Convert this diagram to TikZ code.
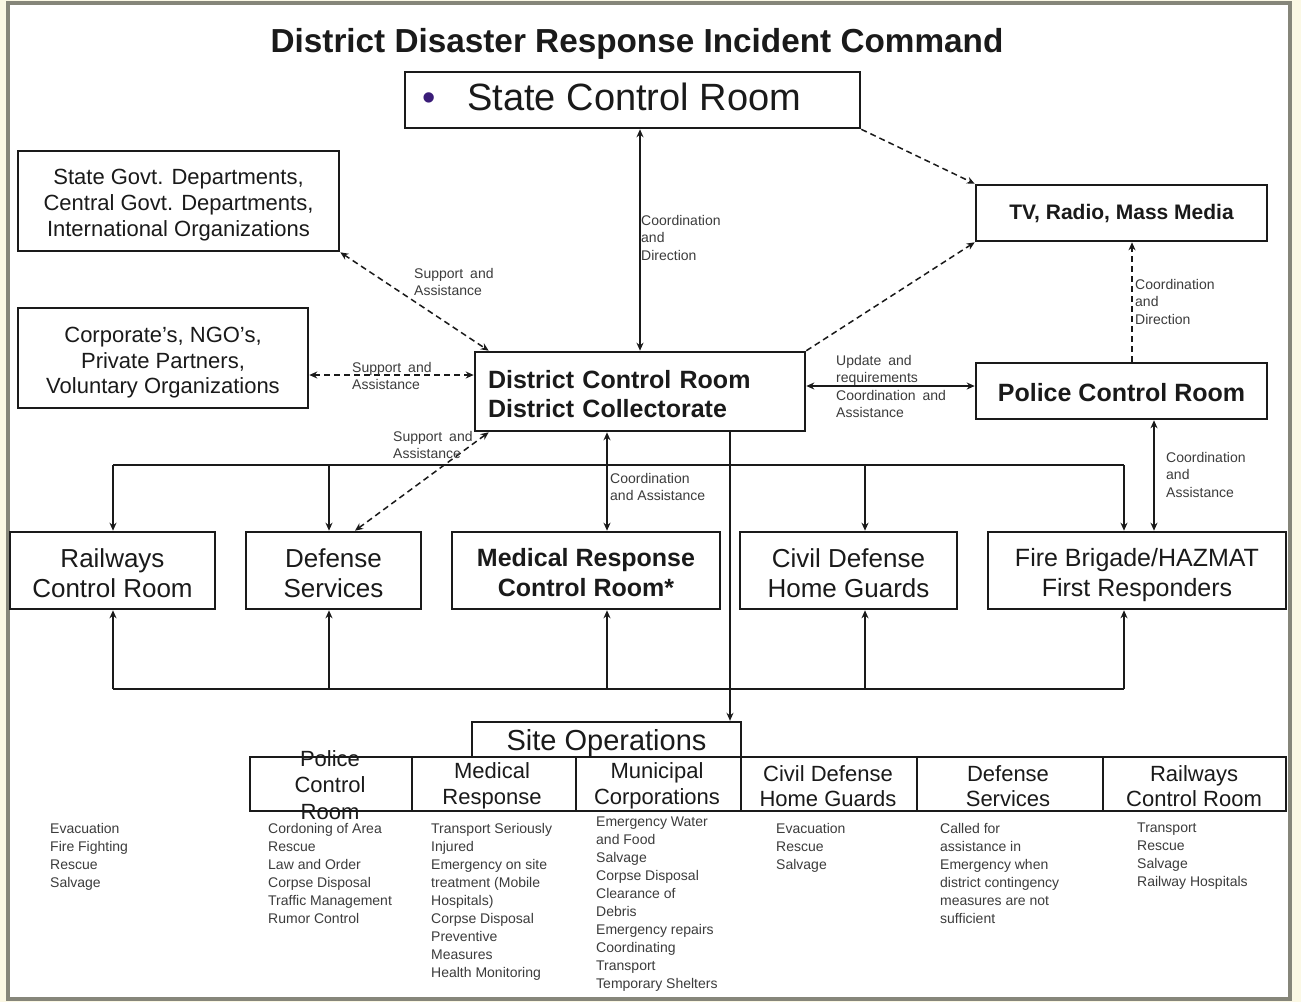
\documentclass[tikz,border=0pt]{standalone}
\usepackage{fontspec}
\setmainfont{Liberation Sans}
\usetikzlibrary{arrows.meta,calc}
\definecolor{cream}{HTML}{FBF8E4}
\definecolor{framegray}{HTML}{86867A}
\definecolor{ink}{HTML}{1A1A1A}
\definecolor{lblc}{HTML}{3C3C3C}
\definecolor{bulletc}{HTML}{3A1C78}
\newcommand\myfs[2]{\fontsize{#1}{#2}\selectfont}
\tikzset{
  box/.style={draw=ink, line width=2.6pt, fill=white, inner sep=0pt},
  boxtext/.style={align=center, inner sep=0pt, text=ink},
  rowbox/.style={box, minimum height=77},
  cell/.style={draw=ink, line width=1.6pt, minimum height=54, inner sep=0pt},
  celltext/.style={font=\myfs{22}{25.5}, align=center, inner sep=0pt, text=ink},
  listtext/.style={font=\myfs{14}{18}, align=left, inner sep=0pt, anchor=north west, text=lblc},
  lbl/.style={font=\myfs{14}{17.5}, align=left, inner sep=0pt, anchor=north west, text=lblc},
  conn/.style={draw=ink, line width=1.5pt},
  dconn/.style={conn, dash pattern=on 6pt off 4pt},
}
\begin{document}
\begin{tikzpicture}[x=1pt,y=-1pt,>={Stealth[length=8pt,width=7pt]}]
\useasboundingbox (0,0) rectangle (1301,1002);
\fill[cream] (0,0) rectangle (1301,1002);
\filldraw[fill=white, draw=framegray, line width=4pt] (7.5,3) rectangle (1290,999);

% title
\node[font=\bfseries\myfs{33.3}{38}, text=ink, inner sep=0pt] (title) at (637,44) {District Disaster Response Incident Command};

% top boxes
\node[box, minimum width=455, minimum height=56,
  label={[boxtext, name=stateT, font=\myfs{38}{40}, yshift=3pt]center:{\makebox[455pt][l]{\hspace{17pt}\textcolor{bulletc}{•}\hspace{32pt}State Control Room}}}]
  (state) at (632.5,100) {};
\node[box, minimum width=291, minimum height=56,
  label={[boxtext, name=tvT, font=\bfseries\myfs{21}{24}, yshift=-1pt]center:{TV, Radio, Mass Media}}]
  (tv) at (1121.5,213) {};
\node[box, minimum width=321, minimum height=100,
  label={[boxtext, name=sgovT, font=\myfs{22}{26}, yshift=-4pt]center:{State Govt. Departments,\\Central Govt. Departments,\\International Organizations}}]
  (sgov) at (178.5,201) {};
\node[box, minimum width=290, minimum height=100,
  label={[boxtext, name=corpT, font=\myfs{22}{25.5}, yshift=-5pt]center:{Corporate's, NGO's,\\Private Partners,\\Voluntary Organizations}}]
  (corp) at (163,358) {};
\node[box, minimum width=330, minimum height=79,
  label={[boxtext, name=distT, text width=304pt, align=left, font=\bfseries\myfs{25}{29}, yshift=-2.5pt]center:{District Control Room\\District Collectorate}}]
  (dist) at (640,391.5) {};
\node[box, minimum width=291, minimum height=56,
  label={[boxtext, name=policeT, font=\bfseries\myfs{25}{28}, yshift=-2pt]center:{Police Control Room}}]
  (police) at (1121.5,391) {};

% row of boxes
\node[rowbox, minimum width=205,
  label={[boxtext, name=railT, font=\myfs{26}{30}, yshift=-3pt]center:{Railways\\Control Room}}]
  (rail) at (112.5,570.5) {};
\node[rowbox, minimum width=175,
  label={[boxtext, name=defT, font=\myfs{26}{30}, yshift=-3pt]center:{Defense\\Services}}]
  (def) at (333.5,570.5) {};
\node[rowbox, minimum width=268,
  label={[boxtext, name=medT, font=\bfseries\myfs{25}{30}, yshift=-2.5pt]center:{Medical Response\\Control Room*}}]
  (med) at (586,570.5) {};
\node[rowbox, minimum width=217,
  label={[boxtext, name=civilT, font=\myfs{26}{30}, yshift=-3pt]center:{Civil Defense\\Home Guards}}]
  (civil) at (848.5,570.5) {};
\node[rowbox, minimum width=298,
  label={[boxtext, name=fireT, font=\myfs{25}{30}, yshift=-5pt]center:{Fire Brigade/HAZMAT\\First Responders}}]
  (fire) at (1137,570.5) {};

% site operations
\node[cell, minimum width=162] (c1) at (331,784) {};
\node[cell, minimum width=164] (c2) at (494,784) {};
\node[cell, minimum width=165] (c3) at (658.5,784) {};
\node[cell, minimum width=176] (c4) at (829,784) {};
\node[cell, minimum width=186] (c5) at (1010,784) {};
\node[cell, minimum width=183] (c6) at (1194.5,784) {};
\node[box, line width=2.4pt, minimum width=269, minimum height=35,
  label={[boxtext, name=siteT, font=\myfs{29}{32}, yshift=-3.5pt]center:{Site Operations}}]
  (site) at (606.5,739.5) {};
\node[celltext, font=\myfs{22}{26.5}] (t1) at (330,785) {Police\\Control\\Room};
\node[celltext] (t2) at (492,786) {Medical\\Response};
\node[celltext] (t3) at (657,786) {Municipal\\Corporations};
\node[celltext] (t4) at (828,786) {Civil Defense\\Home Guards};
\node[celltext] (t5) at (1008,786) {Defense\\Services};
\node[celltext] (t6) at (1194,786) {Railways\\Control Room};

% lists
\node[listtext] (l1) at (50,823) {Evacuation\\Fire Fighting\\Rescue\\Salvage};
\node[listtext] (l2) at (268,823) {Cordoning of Area\\Rescue\\Law and Order\\Corpse Disposal\\Traffic Management\\Rumor Control};
\node[listtext] (l3) at (431,823) {Transport Seriously\\Injured\\Emergency on site\\treatment (Mobile\\Hospitals)\\Corpse Disposal\\Preventive\\Measures\\Health Monitoring};
\node[listtext] (l4) at (596,817) {Emergency Water\\and Food\\Salvage\\Corpse Disposal\\Clearance of\\Debris\\Emergency repairs\\Coordinating\\Transport\\Temporary Shelters};
\node[listtext] (l5) at (776,823) {Evacuation\\Rescue\\Salvage};
\node[listtext] (l6) at (940,823) {Called for\\assistance in\\Emergency when\\district contingency\\measures are not\\sufficient};
\node[listtext] (l7) at (1137,823) {Transport\\Rescue\\Salvage\\Railway Hospitals};

% helper coordinates
\coordinate (yT) at (0,465);
\coordinate (yB) at (0,689);
\coordinate (y375) at (0,375);
\coordinate (y386) at (0,386);
\coordinate (xR) at (113,0);
\coordinate (xD) at (329,0);
\coordinate (xM) at (607,0);
\coordinate (xC) at (865,0);
\coordinate (xF) at (1124,0);
\coordinate (xS) at (730,0);
\coordinate (xP) at (1154,0);
\coordinate (xV) at (1132,0);

% buses
\draw[conn] (xR |- yT) -- (xF |- yT);
\draw[conn,->] (xR |- yT) -- (xR |- rail.north);
\draw[conn,->] (xD |- yT) -- (xD |- def.north);
\draw[conn,->] (xC |- yT) -- (xC |- civil.north);
\draw[conn,->] (xF |- yT) -- (xF |- fire.north);
\draw[conn] (xR |- yB) -- (xF |- yB);
\draw[conn,->] (xR |- yB) -- (xR |- rail.south);
\draw[conn,->] (xD |- yB) -- (xD |- def.south);
\draw[conn,->] (xM |- yB) -- (xM |- med.south);
\draw[conn,->] (xC |- yB) -- (xC |- civil.south);
\draw[conn,->] (xF |- yB) -- (xF |- fire.south);

% solid connectors
\draw[conn,<->] (dist.north |- state.south) -- (dist.north);
\draw[conn,<->] (dist.east |- y386) -- (police.west |- y386);
\draw[conn,<->] (xP |- police.south) -- (xP |- fire.north);
\draw[conn,<->] (xM |- dist.south) -- (xM |- med.north);
\draw[conn,->] (xS |- dist.south) -- (xS |- site.north);

% dashed connectors
\draw[dconn,<->] (sgov.south east) -- ([xshift=15pt]dist.north west);
\draw[dconn,<->] (corp.east |- y375) -- (dist.west |- y375);
\draw[dconn,<->] ([xshift=15pt]dist.south west) -- ([xshift=21.5pt]def.north);
\draw[dconn,->] (state.south east) -- (tv.north west);
\draw[dconn,->] (dist.north east) -- (tv.south west);
\draw[dconn,->] (xV |- police.north) -- (xV |- tv.south);

% labels
\node[lbl] (lb1) at (641,215) {Coordination\\and\\Direction};
\node[lbl] (lb2) at (414,268) {Support\enspace and\\Assistance};
\node[lbl] (lb3) at (352,362) {Support\enspace and\\Assistance};
\node[lbl] (lb4) at (393,431) {Support\enspace and\\Assistance};
\node[lbl] (lb5) at (836,355) {Update\enspace and\\requirements};
\node[lbl] (lb6) at (836,390) {Coordination\enspace and\\Assistance};
\node[lbl] (lb7) at (1135,279) {Coordination\\and\\Direction};
\node[lbl] (lb8) at (1166,452) {Coordination\\and\\Assistance};
\node[lbl] (lb9) at (610,473) {Coordination\\and Assistance};
\end{tikzpicture}
\end{document}
